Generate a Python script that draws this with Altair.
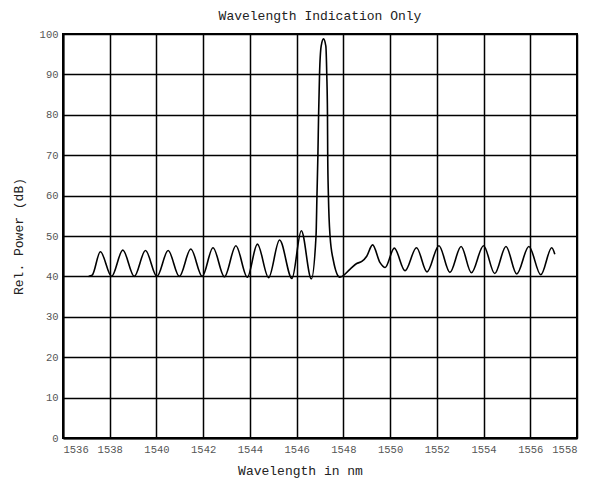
import altair as alt
import pandas as pd

# Wavelength (nm) and relative power (dB)
wavelength = [1537.10, 1537.25, 1537.60, 1538.08, 1538.56, 1539.05, 1539.53, 1540.02,
              1540.50, 1540.98, 1541.47, 1541.96, 1542.42, 1542.91, 1543.40, 1543.89,
              1544.32, 1544.80, 1545.27, 1545.80, 1546.20, 1546.63, 1546.83, 1546.87,
              1546.91, 1546.94, 1546.98, 1547.05, 1547.15, 1547.25, 1547.29, 1547.32,
              1547.33, 1547.36, 1547.43, 1547.57, 1547.85, 1548.29, 1548.57, 1548.79,
              1549.00, 1549.25, 1549.57, 1549.79, 1550.18, 1550.64, 1551.13, 1551.58,
              1552.09, 1552.56, 1553.04, 1553.48, 1554.00, 1554.48, 1554.96, 1555.42,
              1555.94, 1556.45, 1556.92, 1557.05]
power = [40.0, 40.3, 46.1, 40.0, 46.5, 40.0, 46.4, 40.0,
         46.4, 40.0, 46.8, 40.0, 47.1, 39.9, 47.6, 39.8,
         48.0, 39.7, 49.0, 39.5, 51.3, 39.4, 50.0, 60.0,
         70.0, 80.0, 90.0, 97.0, 98.8, 97.0, 90.0, 80.0,
         70.0, 60.0, 50.0, 44.0, 39.8, 41.8, 43.2, 43.7,
         45.0, 47.8, 43.4, 42.2, 47.0, 41.4, 47.1, 41.1,
         47.6, 41.0, 47.4, 40.9, 47.6, 40.7, 47.4, 40.6,
         47.4, 40.4, 47.1, 45.5]

x_ticks = [1536, 1538, 1540, 1542, 1544, 1546, 1548, 1550, 1552, 1554, 1556, 1558]
y_ticks = [0, 10, 20, 30, 40, 50, 60, 70, 80, 90, 100]

df = pd.DataFrame({"wl": wavelength, "p": power})

FONT = "Liberation Mono"

chart = alt.Chart(df).mark_line(
    color="black", strokeWidth=1.6, interpolate="monotone"
).encode(
    x=alt.X("wl:Q",
            scale=alt.Scale(domain=[1536, 1558], nice=False, zero=False),
            axis=alt.Axis(values=x_ticks, format="d", title="Wavelength in nm",
                          titlePadding=10, titleX=237, labelPadding=6)),
    y=alt.Y("p:Q",
            scale=alt.Scale(domain=[0, 100], nice=False),
            axis=alt.Axis(values=y_ticks, format="d", title="Rel. Power (dB)",
                          titlePadding=14, labelPadding=5)),
).properties(
    width=514, height=404,
    background="white",
    autosize=alt.AutoSizeParams(type="none"),
    padding={"left": 55, "top": 26, "right": 17, "bottom": 55},
    title=alt.TitleParams("Wavelength Indication Only", font=FONT, fontSize=13,
                          fontWeight="normal", color="#222", offset=6, anchor="middle"),
).configure_view(
    stroke="black", strokeWidth=2
).configure_axis(
    grid=True, gridColor="black", gridWidth=1.5, gridOpacity=1,
    domain=True, domainColor="black", domainWidth=2,
    ticks=False,
    labelFont=FONT, labelFontSize=10.5, labelColor="#555",
    titleFont=FONT, titleFontSize=13, titleFontWeight="normal", titleColor="#222",
)

chart.save("out.html", embed_options={"renderer": "svg", "actions": False})
